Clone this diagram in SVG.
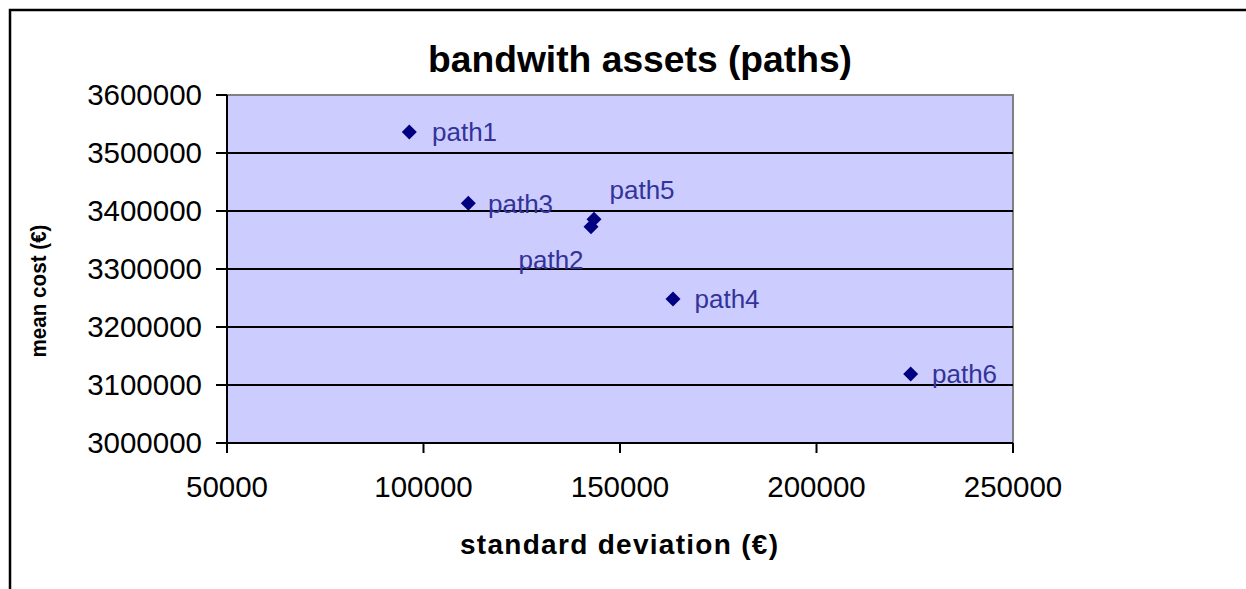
<svg xmlns="http://www.w3.org/2000/svg" width="1246" height="589" viewBox="0 0 1246 589">
  <style>
    text { font-family: "Liberation Sans", Arial, sans-serif; }
    .tick { font-size: 29.5px; fill: #000; }
    .ylab { text-anchor: end; }
    .xlab { text-anchor: middle; }
    .title { font-size: 37px; font-weight: bold; text-anchor: middle; }
    .axtitle { font-weight: bold; text-anchor: middle; }
    .grid { stroke: #000; stroke-width: 2; }
    .pt { fill: #000080; }
    .plabel { font-size: 26px; fill: #333399; }
  </style>
  <defs>
    <path id="dia" d="M0,-7.5 L7.5,0 L0,7.5 L-7.5,0 Z"/>
  </defs>

  <rect x="0" y="0" width="1246" height="589" fill="#fff"/>
  <!-- chart frame -->
  <rect x="10" y="10" width="1300" height="700" fill="none" stroke="#000" stroke-width="2.5"/>

  <text class="title" x="640" y="72" textLength="424" lengthAdjust="spacingAndGlyphs">bandwith assets (paths)</text>

  <!-- plot area -->
  <g id="plot">
    <rect x="227" y="95" width="786" height="348" fill="#CCCCFF" stroke="#808080" stroke-width="2"/>
    <g class="grid">
      <line x1="216" y1="153" x2="1013" y2="153"/>
      <line x1="216" y1="211" x2="1013" y2="211"/>
      <line x1="216" y1="269" x2="1013" y2="269"/>
      <line x1="216" y1="327" x2="1013" y2="327"/>
      <line x1="216" y1="385" x2="1013" y2="385"/>
      <line x1="216" y1="95" x2="227" y2="95"/>
      <!-- axes -->
      <line x1="227" y1="95" x2="227" y2="453"/>
      <line x1="216" y1="443" x2="1013" y2="443"/>
      <line x1="423.5" y1="443" x2="423.5" y2="453"/>
      <line x1="620" y1="443" x2="620" y2="453"/>
      <line x1="816.5" y1="443" x2="816.5" y2="453"/>
      <line x1="1013" y1="443" x2="1013" y2="453"/>
    </g>
  </g>

  <!-- y tick labels -->
  <g>
    <text class="tick ylab" x="202" y="105">3600000</text>
    <text class="tick ylab" x="202" y="163">3500000</text>
    <text class="tick ylab" x="202" y="221">3400000</text>
    <text class="tick ylab" x="202" y="279">3300000</text>
    <text class="tick ylab" x="202" y="337">3200000</text>
    <text class="tick ylab" x="202" y="395">3100000</text>
    <text class="tick ylab" x="202" y="453">3000000</text>
  </g>

  <!-- x tick labels -->
  <g>
    <text class="tick xlab" x="227" y="497">50000</text>
    <text class="tick xlab" x="423.5" y="497">100000</text>
    <text class="tick xlab" x="620" y="497">150000</text>
    <text class="tick xlab" x="816.5" y="497">200000</text>
    <text class="tick xlab" x="1013" y="497">250000</text>
  </g>

  <text class="axtitle" font-size="28" x="619" y="554" textLength="318" lengthAdjust="spacing">standard deviation (€)</text>
  <text class="axtitle" font-size="21.5" transform="translate(46,291) rotate(-90)" x="0" y="0" textLength="133" lengthAdjust="spacingAndGlyphs">mean cost (€)</text>

  <!-- data points -->
  <g id="path1"><use href="#dia" class="pt" x="409.3" y="132"/><text class="plabel" x="432" y="141">path1</text></g>
  <g id="path3"><use href="#dia" class="pt" x="468.3" y="203.3"/><text class="plabel" x="488" y="213">path3</text></g>
  <g id="path2"><use href="#dia" class="pt" x="591" y="226.7"/><text class="plabel" x="518.5" y="269">path2</text></g>
  <g id="path5"><use href="#dia" class="pt" x="594" y="219.3"/><text class="plabel" x="609.5" y="199">path5</text></g>
  <g id="path4"><use href="#dia" class="pt" x="673" y="299"/><text class="plabel" x="694.5" y="308">path4</text></g>
  <g id="path6"><use href="#dia" class="pt" x="910.7" y="374"/><text class="plabel" x="932" y="383">path6</text></g>
</svg>
